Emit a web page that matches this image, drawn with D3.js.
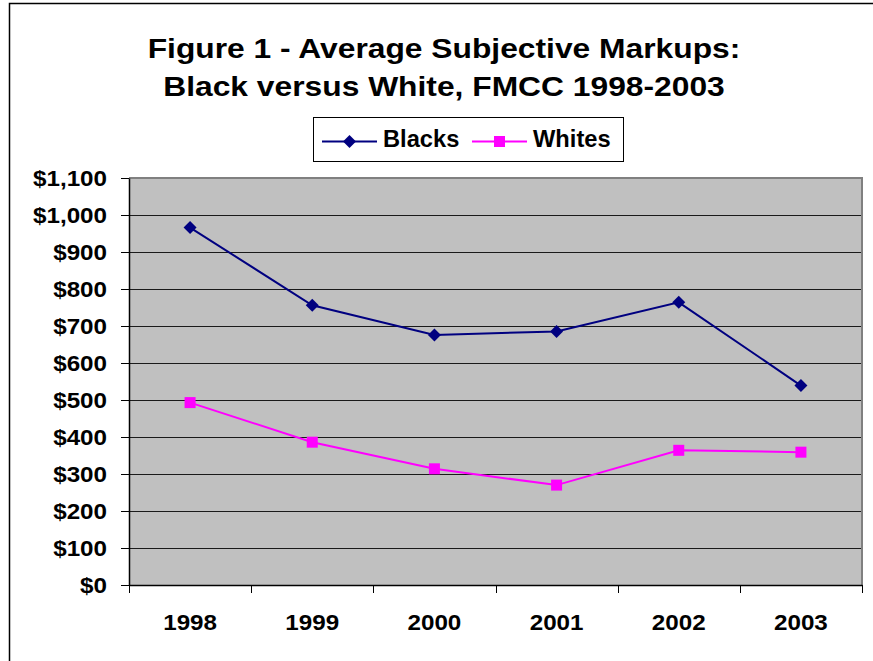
<!DOCTYPE html>
<html>
<head>
<meta charset="utf-8">
<script src="https://cdn.jsdelivr.net/npm/d3@7"></script>
<style>
  html, body { margin: 0; padding: 0; background: #ffffff; }
  svg { display: block; }
  text { font-family: "Liberation Sans", Arial, sans-serif; font-weight: bold; fill: #000; }
</style>
</head>
<body>
<svg id="chart" width="873" height="661"></svg>
<script>
// Average subjective markups by year
const years = ["1998", "1999", "2000", "2001", "2002", "2003"];
const blacks = [966, 756, 676, 685, 764, 539];
const whites = [493, 386, 314, 270, 364, 359];
const yTicks = [0, 100, 200, 300, 400, 500, 600, 700, 800, 900, 1000, 1100];
const titleLines = ["Figure 1 - Average Subjective Markups:", "Black versus White, FMCC 1998-2003"];
const seriesNames = ["Blacks", "Whites"];

const svg = d3.select("#chart");
const plot = { left: 129, right: 862, top: 178, bottom: 585 };
const stretch = 1.1; // slightly wide glyphs

// outer chart frame
svg.append("rect")
  .attr("x", 9.5).attr("y", 3.5)
  .attr("width", 900).attr("height", 700)
  .attr("fill", "#fff").attr("stroke", "#000").attr("stroke-width", 1.5);

// title
svg.selectAll("text.title")
  .data(titleLines)
  .join("text")
  .attr("class", "title")
  .attr("text-anchor", "middle")
  .attr("font-size", 28)
  .attr("transform", (d, i) => `translate(444,${57.5 + i * 38.5}) scale(1.135,1)`)
  .text(d => d);

const x = d3.scaleBand().domain(years).range([plot.left, plot.right]).padding(0);
const y = d3.scaleLinear().domain([0, 1100]).range([plot.bottom, plot.top]);

// plot background
svg.append("rect")
  .attr("x", plot.left).attr("y", plot.top)
  .attr("width", plot.right - plot.left).attr("height", plot.bottom - plot.top)
  .attr("fill", "#c0c0c0");

// gridlines
svg.append("g")
  .selectAll("line")
  .data(yTicks.filter(v => v > 0))
  .join("line")
  .attr("x1", plot.left).attr("x2", plot.right)
  .attr("y1", d => Math.round(y(d)) + 0.5).attr("y2", d => Math.round(y(d)) + 0.5)
  .attr("stroke", "#1a1a1a").attr("stroke-width", 1.2);

// plot border (top and right)
svg.append("path")
  .attr("d", `M${plot.left},${plot.top} H${plot.right} V${plot.bottom}`)
  .attr("fill", "none").attr("stroke", "#808080").attr("stroke-width", 2);

// y axis
const yAxis = svg.append("g")
  .attr("transform", `translate(${plot.left},0)`)
  .call(d3.axisLeft(y).tickValues(yTicks).tickSize(8).tickSizeOuter(0)
    .tickFormat(d => "$" + d3.format(",")(d)));
yAxis.select(".domain").attr("stroke", "#000").attr("stroke-width", 1.5);
yAxis.selectAll(".tick line").attr("stroke", "#000");
yAxis.selectAll(".tick text")
  .attr("x", -20).attr("dy", "0.34em")
  .attr("font-size", 22)
  .attr("font-family", "Liberation Sans, Arial, sans-serif")
  .attr("font-weight", "bold")
  .attr("fill", "#000")
  .attr("transform", `scale(${stretch},1)`);

// x axis: category ticks sit on the band boundaries
const xAxis = svg.append("g")
  .attr("transform", `translate(0,${plot.bottom})`)
  .call(d3.axisBottom(x).tickSize(0).tickSizeOuter(0));
xAxis.select(".domain").attr("stroke", "#000").attr("stroke-width", 1.5);
xAxis.selectAll(".tick text")
  .attr("y", 0).attr("dy", 0)
  .attr("font-size", 22)
  .attr("font-family", "Liberation Sans, Arial, sans-serif")
  .attr("font-weight", "bold")
  .attr("fill", "#000")
  .attr("transform", `translate(0,45) scale(${stretch},1)`);
const boundaries = years.map(d => x(d)).concat([x(years[years.length - 1]) + x.bandwidth()]);
xAxis.append("g")
  .selectAll("line")
  .data(boundaries)
  .join("line")
  .attr("x1", d => Math.round(d) + 0.5).attr("x2", d => Math.round(d) + 0.5)
  .attr("y1", 0).attr("y2", 8)
  .attr("stroke", "#000");

// series
const cx = d => x(d) + x.bandwidth() / 2;
const line = d3.line().x((v, i) => cx(years[i])).y(v => y(v));

const diamond = s => `M0,${-s} L${s},0 L0,${s} L${-s},0 Z`;

svg.append("path").datum(blacks)
  .attr("d", line).attr("fill", "none")
  .attr("stroke", "#000080").attr("stroke-width", 2);
svg.append("g").selectAll("path")
  .data(blacks)
  .join("path")
  .attr("transform", (v, i) => `translate(${cx(years[i])},${y(v)})`)
  .attr("d", diamond(6.5))
  .attr("fill", "#000080");

svg.append("path").datum(whites)
  .attr("d", line).attr("fill", "none")
  .attr("stroke", "#ff00ff").attr("stroke-width", 2);
svg.append("g").selectAll("rect")
  .data(whites)
  .join("rect")
  .attr("x", (v, i) => cx(years[i]) - 5.5)
  .attr("y", v => y(v) - 5.5)
  .attr("width", 11).attr("height", 11)
  .attr("fill", "#ff00ff");

// legend
const legend = svg.append("g");
legend.append("rect")
  .attr("x", 313.5).attr("y", 117.5)
  .attr("width", 310).attr("height", 44)
  .attr("fill", "#fff").attr("stroke", "#000").attr("stroke-width", 1);
const legendItems = [
  { name: seriesNames[0], color: "#000080", x0: 322, shape: "diamond" },
  { name: seriesNames[1], color: "#ff00ff", x0: 472, shape: "square" }
];
const ly = 141.5;
legendItems.forEach(it => {
  legend.append("line")
    .attr("x1", it.x0).attr("x2", it.x0 + 55)
    .attr("y1", ly).attr("y2", ly)
    .attr("stroke", it.color).attr("stroke-width", 2);
  if (it.shape === "diamond") {
    legend.append("path")
      .attr("transform", `translate(${it.x0 + 27.5},${ly})`)
      .attr("d", diamond(6.5)).attr("fill", it.color);
  } else {
    legend.append("rect")
      .attr("x", it.x0 + 27.5 - 5.5).attr("y", ly - 5.5)
      .attr("width", 11).attr("height", 11).attr("fill", it.color);
  }
  legend.append("text")
    .attr("font-size", 23)
    .attr("transform", `translate(${it.x0 + 61},${ly + 5}) scale(1.03,1)`)
    .text(it.name);
});
</script>
</body>
</html>
